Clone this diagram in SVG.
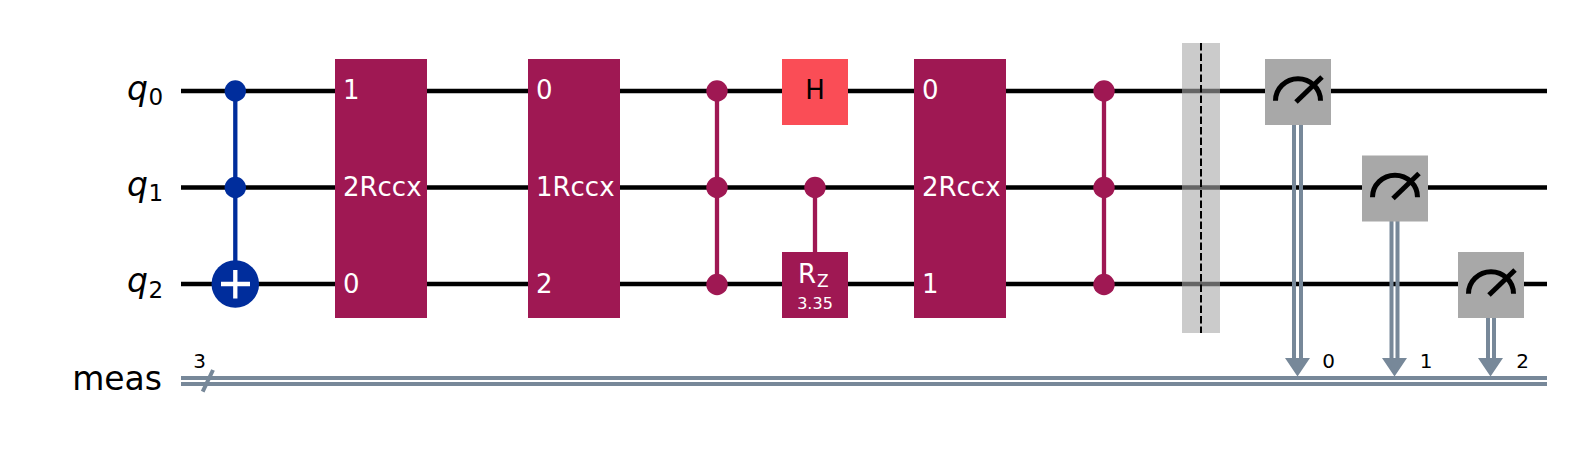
<svg xmlns="http://www.w3.org/2000/svg" width="1569" height="454" viewBox="0 0 1569 454">
<style>
text{font-family:"DejaVu Sans",sans-serif}
.w{stroke:#000;stroke-width:4.300;fill:none}
.k{stroke:#000;stroke-width:5;fill:none}
.c{stroke:#778899;stroke-width:4;fill:none}
.p{fill:#9f1853}
.pl{stroke:#9f1853;stroke-width:4.300;fill:none}
.b{fill:#002d9c}
.bl{stroke:#002d9c;stroke-width:4.300;fill:none}
.g{fill:#fff;font-size:26px}
.lab{font-size:33px;fill:#000}
.sub{font-size:23px;fill:#000}
.m{fill:#a8a8a8}
.n{font-size:20px;fill:#000}
</style>
<defs>
<g id="meter"><rect class="m" x="0" y="0" width="66" height="66"/><path class="k" d="M10.500 41.700A22.500 22 0 0 1 55.500 41.700"/><path class="k" d="M31 43L57 18"/></g>
</defs>
<g id="connectors">
<path class="w" d="M181 91H1547M181 187.500H1547M181 284H1547"/>
<path class="c" d="M181 378H1547M181 384H1547"/>
<path class="c" d="M202.700 391.700L213 370"/>
<path class="bl" d="M235.300 91V284"/>
<path class="pl" d="M717 91V284M815 187.500V285M1104 91V284"/>
<path class="c" d="M1294 125V362M1301 125V362M1391.500 220V362M1397.500 220V362M1488 318V362M1494 318V362"/>
<path d="M1285 358H1310L1297.500 376.500ZM1382 358H1407L1394.500 376.500ZM1478 358H1503L1490.500 376.500Z" fill="#778899"/>
</g>
<g id="labels">
<text class="lab" x="127" y="99.500" font-style="italic">q</text><text class="sub" x="148.500" y="104.500">0</text>
<text class="lab" x="127" y="196" font-style="italic">q</text><text class="sub" x="148.500" y="201">1</text>
<text class="lab" x="127" y="292" font-style="italic">q</text><text class="sub" x="148.500" y="298">2</text>
<text class="lab" x="162" y="389.500" text-anchor="end">meas</text>
<text class="n" x="199.500" y="368" text-anchor="middle">3</text>
</g>
<g id="ccx"><circle class="b" cx="235.300" cy="91" r="10.700"/><circle class="b" cx="235.300" cy="187.500" r="10.700"/><circle class="b" cx="235.300" cy="284" r="23.800"/><path d="M235.300 270V298.500M221 284H250" stroke="#fff" stroke-width="4.300"/></g>
<g id="rccx1"><rect class="p" x="335" y="59" width="92" height="259"/><text class="g" x="343" y="99.300">1</text><text class="g" x="343" y="196">2</text><text class="g" x="343" y="292.500">0</text><text class="g" x="359.500" y="196">Rccx</text></g>
<g id="rccx2"><rect class="p" x="528" y="59" width="92" height="259"/><text class="g" x="536" y="99.300">0</text><text class="g" x="536" y="196">1</text><text class="g" x="536" y="292.500">2</text><text class="g" x="552.500" y="196">Rccx</text></g>
<g id="ccz1"><circle class="p" cx="717" cy="91" r="10.700"/><circle class="p" cx="717" cy="187.500" r="10.700"/><circle class="p" cx="717" cy="284.500" r="10.700"/></g>
<g id="h"><rect x="782" y="59" width="66" height="66" fill="#fa4d56"/><text x="815" y="99.300" font-size="26" text-anchor="middle" fill="#000">H</text></g>
<g id="crz"><circle class="p" cx="815" cy="187.500" r="10.700"/><rect class="p" x="782" y="252" width="66" height="66"/><text class="g" x="798" y="283.300">R</text><text x="817" y="287" font-size="17" fill="#fff">Z</text><text x="815" y="309" font-size="16" fill="#fff" text-anchor="middle">3.35</text></g>
<g id="rccx3"><rect class="p" x="914" y="59" width="92" height="259"/><text class="g" x="922" y="99.300">0</text><text class="g" x="922" y="196">2</text><text class="g" x="922" y="292.500">1</text><text class="g" x="938.500" y="196">Rccx</text></g>
<g id="ccz2"><circle class="p" cx="1104" cy="91" r="10.700"/><circle class="p" cx="1104" cy="187.500" r="10.700"/><circle class="p" cx="1104" cy="284.500" r="10.700"/></g>
<g id="barrier"><rect x="1182" y="43" width="38" height="290" fill="#a8a8a8" fill-opacity="0.6"/><path d="M1201 43V333" stroke="#000" stroke-width="2" stroke-dasharray="7.500 3"/></g>
<g id="m0"><use href="#meter" x="1265" y="59"/><text class="n" x="1328.700" y="368" text-anchor="middle">0</text></g>
<g id="m1"><use href="#meter" x="1362" y="155.500"/><text class="n" x="1426" y="368" text-anchor="middle">1</text></g>
<g id="m2"><use href="#meter" x="1458" y="252"/><text class="n" x="1522.500" y="368" text-anchor="middle">2</text></g>
</svg>
